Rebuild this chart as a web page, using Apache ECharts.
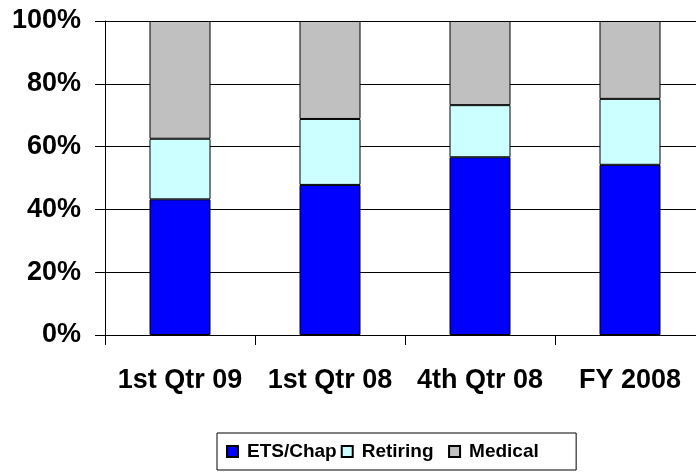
<!DOCTYPE html>
<html>
<head>
<meta charset="utf-8">
<script src="https://cdn.jsdelivr.net/npm/echarts@6/dist/echarts.min.js"></script>
<style>
  html, body { margin: 0; padding: 0; background: #fff; overflow: hidden; }
  /* a little wider than the window: the plot runs past the right edge, like the original export */
  #chart { width: 710px; height: 475px; }
</style>
</head>
<body>
<div id="chart"></div>
<script>
// categories and stacked shares (%)
var categories = ["1st Qtr 09", "1st Qtr 08", "4th Qtr 08", "FY 2008"];
var etsChap = [43.2, 47.8, 56.6, 54.2];
var retiring = [19.3, 21.0, 16.6, 21.0];
var medical = [37.5, 31.2, 26.8, 24.8];
var yTicks = [0, 20, 40, 60, 80, 100];
var seriesNames = ["ETS/Chap", "Retiring", "Medical"];
// the original legend text is spaced wider, pad it out
var legendPad = ["", "  ", "     "];

var font = "Arial, 'Liberation Sans', sans-serif";

function barSeries(name, data, color) {
  return {
    name: name,
    type: "bar",
    stack: "total",
    barWidth: 61,
    data: data,
    itemStyle: { color: color, borderColor: "#000", borderWidth: 1 }
  };
}

var chart = echarts.init(document.getElementById("chart"));
chart.setOption({
  animation: false,
  grid: { left: 105, top: 21, right: 5, bottom: 140, containLabel: false },
  legend: {
    left: 217,
    top: 433,
    orient: "horizontal",
    borderColor: "#000",
    borderWidth: 1,
    padding: [9, 11, 9, 9],
    itemWidth: 11,
    itemHeight: 11,
    itemGap: 4,
    icon: "rect",
    data: seriesNames,
    formatter: function (name) {
      return name + legendPad[seriesNames.indexOf(name)];
    },
    textStyle: { fontFamily: font, fontWeight: "bold", fontSize: 19, color: "#000", padding: [0, 0, 0, 4] }
  },
  xAxis: {
    type: "category",
    data: categories,
    boundaryGap: true,
    axisLine: { lineStyle: { color: "#000", width: 1 } },
    axisTick: { show: true, length: 10, lineStyle: { color: "#000" } },
    axisLabel: {
      color: "#000",
      fontFamily: font,
      fontWeight: "bold",
      fontSize: 27,
      margin: 32,
      interval: 0
    }
  },
  yAxis: {
    type: "value",
    min: yTicks[0],
    max: yTicks[yTicks.length - 1],
    interval: 20,
    axisLine: { show: true, lineStyle: { color: "#000", width: 1 } },
    axisTick: { show: true, length: 10, lineStyle: { color: "#000" } },
    splitLine: { show: true, lineStyle: { color: "#000", width: 1 } },
    axisLabel: {
      color: "#000",
      fontFamily: font,
      fontWeight: "bold",
      fontSize: 27,
      margin: 24,
      formatter: "{value}%"
    }
  },
  series: [
    barSeries("ETS/Chap", etsChap, "#0000FF"),
    barSeries("Retiring", retiring, "#CCFFFF"),
    barSeries("Medical", medical, "#C0C0C0")
  ]
});
</script>
</body>
</html>
